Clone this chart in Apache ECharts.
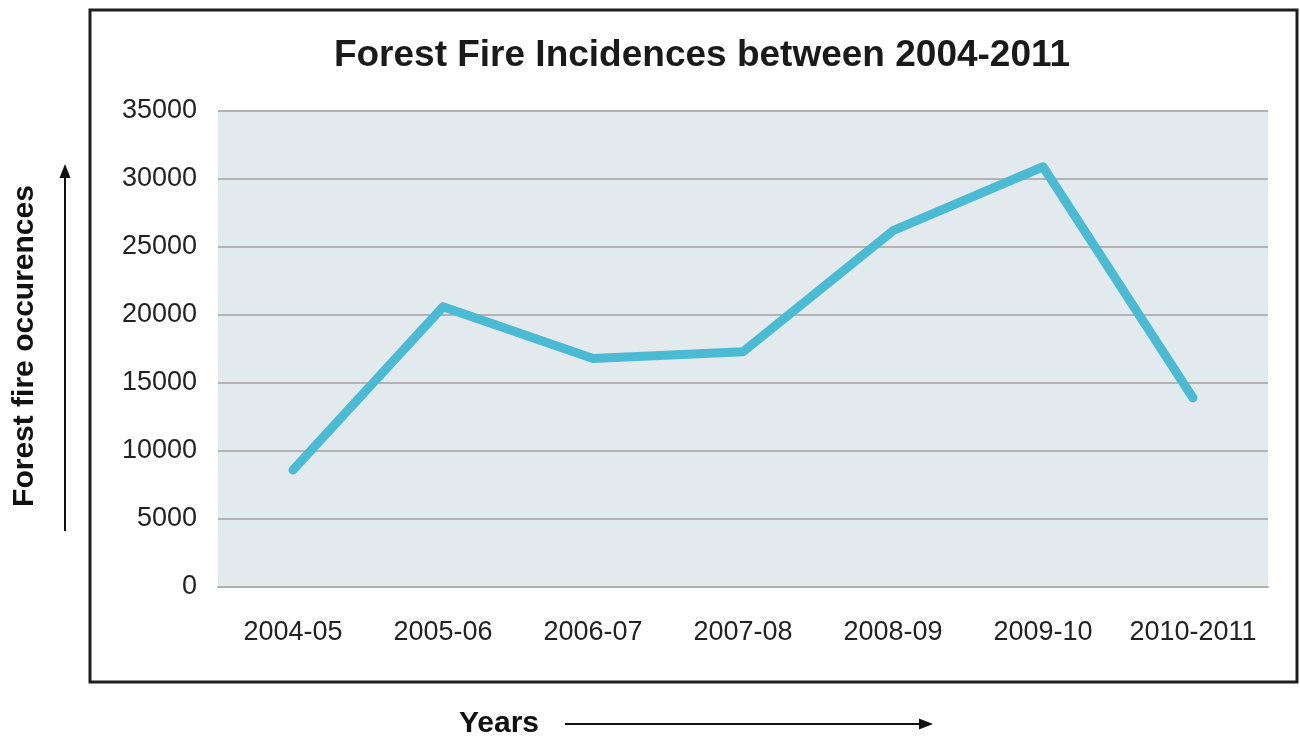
<!DOCTYPE html>
<html>
<head>
<meta charset="utf-8">
<title>Forest Fire Incidences between 2004-2011</title>
<script src="https://cdn.jsdelivr.net/npm/echarts@6/dist/echarts.min.js"></script>
<style>
  html, body { margin: 0; padding: 0; background: #ffffff; }
  #chart { width: 1300px; height: 738px; }
</style>
</head>
<body>
<div id="chart"></div>
<script>
// Fiscal years on the category axis
const years = ['2004-05', '2005-06', '2006-07', '2007-08', '2008-09', '2009-10', '2010-2011'];
// Number of forest fire occurrences per year
const occurrences = [8600, 20600, 16800, 17300, 26200, 30900, 13900];
// Value axis range and step
const yMin = 0;
const yMax = 35000;
const yStep = 5000;

const chart = echarts.init(document.getElementById('chart'), null, { renderer: 'canvas' });

const labelFont = '"Liberation Sans", Arial, sans-serif';

const option = {
  animation: false,
  backgroundColor: '#ffffff',
  title: {
    text: 'Forest Fire Incidences between 2004-2011',
    left: 697,
    top: 32,
    textAlign: 'center',
    textStyle: {
      fontFamily: labelFont,
      fontWeight: 'bold',
      fontSize: 37,
      color: '#1a1a1a'
    }
  },
  grid: {
    left: 218,
    right: 32,
    top: 111,
    bottom: 151,
    show: true,
    backgroundColor: '#e3eaed',
    borderWidth: 0
  },
  xAxis: {
    type: 'category',
    data: years,
    boundaryGap: true,
    axisLine: { show: true, lineStyle: { color: '#b0b0b0', width: 2 } },
    axisTick: { show: false },
    axisLabel: {
      interval: 0,
      margin: 32,
      fontFamily: labelFont,
      fontSize: 27,
      color: '#222222'
    },
    splitLine: { show: false }
  },
  yAxis: {
    type: 'value',
    min: yMin,
    max: yMax,
    interval: yStep,
    axisLine: { show: false },
    axisTick: { show: false },
    axisLabel: {
      margin: 21,
      fontFamily: labelFont,
      fontSize: 27,
      color: '#222222',
      formatter: (v) => String(v)
    },
    splitLine: { show: true, lineStyle: { color: '#b3b3b3', width: 2 } }
  },
  series: [{
    type: 'line',
    data: occurrences,
    symbol: 'none',
    lineStyle: { color: '#4bbad3', width: 9, cap: 'round', join: 'round' },
    z: 5
  }],
  graphic: [
    // outer frame
    {
      type: 'rect',
      shape: { x: 90, y: 10, width: 1207, height: 672 },
      style: { fill: 'none', stroke: '#1e1e1e', lineWidth: 3 },
      z: 10
    },
    // vertical axis caption
    {
      type: 'text',
      x: 25,
      y: 346,
      rotation: Math.PI / 2,
      style: {
        text: 'Forest fire occurences',
        font: 'bold 30px "Liberation Sans", Arial, sans-serif',
        fill: '#111111',
        align: 'center',
        verticalAlign: 'middle'
      },
      z: 10
    },
    // upward arrow shaft
    {
      type: 'line',
      shape: { x1: 65, y1: 531, x2: 65, y2: 172 },
      style: { stroke: '#111111', lineWidth: 2 },
      z: 10
    },
    // upward arrow head
    {
      type: 'polygon',
      shape: { points: [[65, 164], [59.5, 178], [70.5, 178]] },
      style: { fill: '#111111' },
      z: 10
    },
    // horizontal axis caption
    {
      type: 'text',
      x: 499,
      y: 724,
      style: {
        text: 'Years',
        font: 'bold 30px "Liberation Sans", Arial, sans-serif',
        fill: '#111111',
        align: 'center',
        verticalAlign: 'middle'
      },
      z: 10
    },
    // rightward arrow shaft
    {
      type: 'line',
      shape: { x1: 565, y1: 724, x2: 924, y2: 724 },
      style: { stroke: '#111111', lineWidth: 2 },
      z: 10
    },
    // rightward arrow head
    {
      type: 'polygon',
      shape: { points: [[933, 724], [919, 718.5], [919, 729.5]] },
      style: { fill: '#111111' },
      z: 10
    }
  ]
};

chart.setOption(option);
</script>
</body>
</html>
